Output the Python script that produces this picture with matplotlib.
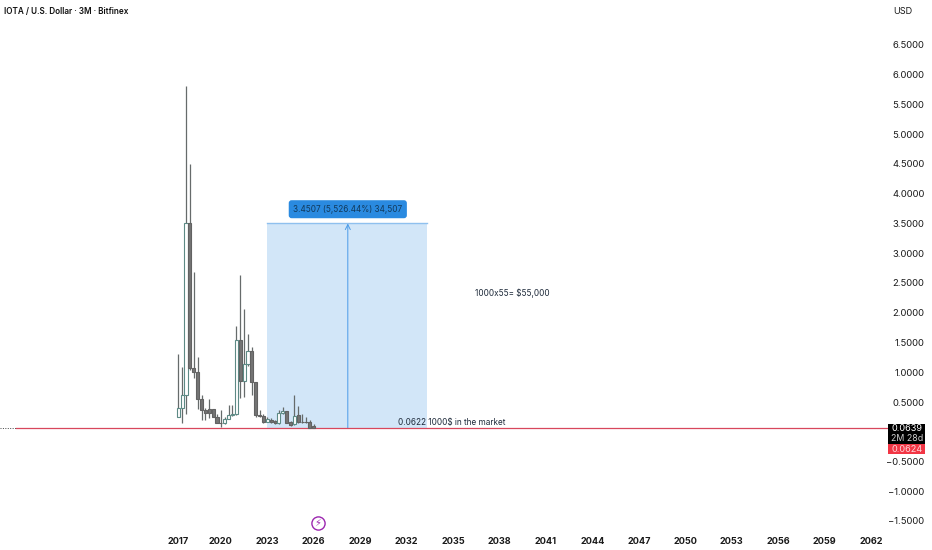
import matplotlib
matplotlib.use('Agg')
import matplotlib.pyplot as plt
from matplotlib.patches import Rectangle

plt.rcParams['font.family'] = ['Inter', 'DejaVu Sans']

# quarterly candles
opens = [0.24, 0.393, 0.618, 3.51, 1.066, 1.0, 0.55, 0.36, 0.38, 0.38, 0.25, 0.15,
         0.14, 0.22, 0.285, 0.30, 1.54, 0.858, 1.14, 1.36, 0.84, 0.285, 0.27, 0.16,
         0.20, 0.175, 0.14, 0.31, 0.345, 0.17, 0.13, 0.285, 0.17, 0.17, 0.16, 0.105]
highs = [1.30, 1.09, 5.81, 4.50, 2.69, 1.25, 0.62, 0.393, 0.545, 0.39, 0.30, 0.36,
         0.25, 0.45, 0.45, 1.77, 2.63, 2.07, 1.65, 1.43, 0.84, 0.36, 0.30, 0.25,
         0.227, 0.20, 0.36, 0.41, 0.35, 0.185, 0.62, 0.43, 0.30, 0.25, 0.20, 0.13]
lows = [0.24, 0.14, 0.30, 1.03, 0.898, 0.39, 0.197, 0.20, 0.227, 0.24, 0.14, 0.087,
        0.13, 0.21, 0.26, 0.285, 0.56, 0.58, 1.10, 0.618, 0.25, 0.25, 0.14, 0.16,
        0.14, 0.13, 0.13, 0.30, 0.14, 0.105, 0.12, 0.14, 0.14, 0.155, 0.06, 0.0622]
closes = [0.393, 0.618, 3.51, 1.066, 1.0, 0.55, 0.36, 0.31, 0.31, 0.25, 0.15, 0.14,
          0.22, 0.285, 0.30, 1.54, 0.858, 1.14, 1.36, 0.84, 0.285, 0.27, 0.16, 0.21,
          0.17, 0.14, 0.31, 0.345, 0.15, 0.12, 0.26, 0.16, 0.16, 0.16, 0.07, 0.0639]

year_labels = ['2017', '2020', '2023', '2026', '2029', '2032', '2035', '2038', '2041',
               '2044', '2047', '2050', '2053', '2056', '2059', '2062']
year_pos = [0] + [11 + 12 * k for k in range(15)]
price_ticks = [6.5, 6.0, 5.5, 5.0, 4.5, 4.0, 3.5, 3.0, 2.5, 2.0, 1.5, 1.0, 0.5, -0.5, -1.0, -1.5]

last_price = 0.0639
base_price = 0.0622
target_price = 3.5
low_line = 0.0624

fig = plt.figure(figsize=(9.32, 5.5), dpi=100)
ax = fig.add_axes([0, 0, 1, 1])
ax.set_xlim(-178.3 / 3.87, (932 - 178.3) / 3.87)
ax.set_ylim((431.75 - 550) / 59.5, 431.75 / 59.5)
for s in ax.spines.values():
    s.set_visible(False)

# measure box
ax.add_patch(Rectangle((23, base_price), 41.2, target_price - base_price,
                       facecolor='#d2e6f8', edgecolor='none', zorder=1))
ax.plot([23, 64.2], [target_price, target_price], color='#8fc0ee', lw=1, zorder=2)
ax.annotate('', xy=(43.8, target_price), xytext=(43.8, base_price),
            arrowprops=dict(arrowstyle='->', color='#4a9be8', lw=0.7, shrinkA=0, shrinkB=0,
                            mutation_scale=9), zorder=2)
ax.text(43.8, 3.74, '3.4507 (5,526.44%) 34,507', ha='center', va='center', fontsize=5.9,
        color='#123a5c', zorder=5,
        bbox=dict(boxstyle='round,pad=0.55,rounding_size=0.35', facecolor='#2a8ae0', edgecolor='none'))

# price lines
ax.plot([-46, 183], [last_price, last_price], color='#444444', lw=0.7, ls=(0, (1, 1.5)), zorder=2)
ax.plot([-42, 183], [low_line, low_line], color='#d8475c', lw=0.9, zorder=3)

# candles
for i in range(len(opens)):
    ax.vlines(i, lows[i], highs[i], color='#666b6b', lw=0.9, zorder=3)
    up = closes[i] >= opens[i]
    bottom = min(opens[i], closes[i])
    height = abs(closes[i] - opens[i])
    ax.bar(i, height, width=0.8, bottom=bottom, zorder=4, linewidth=0.8,
           facecolor='#ffffff' if up else '#757575',
           edgecolor='#5d8a85' if up else '#626262')

# notes
ax.text(56.8, 0.075, '0.0622 1000$ in the market', ha='left', va='bottom', fontsize=5.9, color='#1e2a3a', zorder=5)
ax.text(76.7, 2.33, '1000x55= $55,000', ha='left', va='center', fontsize=5.9, color='#1e2a3a')

# axes labels
ax.set_xticks(year_pos)
ax.set_xticklabels(year_labels, fontsize=6.6, fontweight='bold', color='#1a1a1a')
ax.tick_params(axis='x', length=0, pad=-9.5, bottom=True)
ax.yaxis.tick_right()
ax.set_yticks(price_ticks)
ax.set_yticklabels(['%.4f' % p if p >= 0 else '\u2212%.4f' % -p for p in price_ticks],
                   fontsize=6.8, color='#1a1a1a', ha='right')
ax.tick_params(axis='y', length=0, pad=-5.4)

# header
ax.text(-45, 7.07, 'IOTA / U.S. Dollar \u00b7 3M \u00b7 Bitfinex', ha='left', va='center', fontsize=5.9,
        fontweight='semibold', color='#111111')
ax.text(187.2, 7.07, 'USD', ha='center', va='center', fontsize=6.6, color='#1a1a1a')

# last price tags
ax.add_patch(Rectangle((183.4, -0.206), 9.6, 0.336, facecolor='#000000', edgecolor='none', zorder=6))
ax.add_patch(Rectangle((183.4, -0.374), 9.6, 0.168, facecolor='#f23645', edgecolor='none', zorder=6))
ax.text(188.2, 0.05, '%.4f' % last_price, ha='center', va='center', fontsize=6.6, color='white', zorder=7)
ax.text(188.2, -0.12, '2M 28d', ha='center', va='center', fontsize=6.4, color='#cfcfcf', zorder=7)
ax.text(188.2, -0.29, '%.4f' % low_line, ha='center', va='center', fontsize=6.6, color='#ffd5d9', zorder=7)

# earnings style marker
ax.plot([36.1], [-1.534], 'o', ms=9.5, mfc='white', mec='#9c27b0', mew=1, zorder=5)
ax.text(36.1, -1.534, '\u26a1', ha='center', va='center', fontsize=7, color='#9c27b0',
        family='DejaVu Sans', zorder=6)

fig.savefig('out.png', dpi=100)
